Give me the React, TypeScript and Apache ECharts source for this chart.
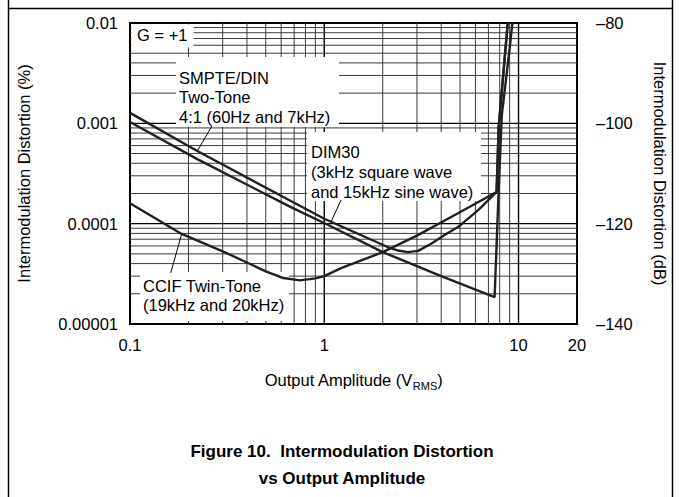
import React, { useEffect, useRef } from "react";
import * as echarts from "echarts";

const FONT = '"Liberation Sans", Arial, Helvetica, sans-serif';
const FS = 16.5;

// ---- data (Output amplitude in V_RMS, IMD in %) ----
const smpteX = [0.1, 0.222, 0.673, 1.048, 2.0, 4.0, 7.53, 7.9, 8.2, 9.0, 9.3];
const smpteY = [1.03e-3, 4.4e-4, 1.46e-4, 9.7e-5, 5.21e-5, 3.0e-5, 1.85e-5, 2.1e-4, 1.2e-3, 5.6e-3, 1e-2];

const dim30X = [0.1, 0.222, 0.673, 1.0, 2.12, 2.4, 2.69, 3.04, 3.55, 4.2, 4.88, 6.22, 7.71, 7.9, 8.8];
const dim30Y = [1.27e-3, 5.3e-4, 1.68e-4, 1.12e-4, 5.85e-5, 5.4e-5, 5.2e-5, 5.35e-5, 6.3e-5, 7.8e-5, 9.25e-5, 1.37e-4, 2.07e-4, 9e-4, 1e-2];

const ccifX = [0.1, 0.1845, 0.3, 0.4, 0.5, 0.616, 0.75, 0.9, 1.0, 1.22, 2.0, 3.0, 4.88, 7.71, 7.9, 8.8];
const ccifY = [1.6e-4, 7.9e-5, 5.3e-5, 4.1e-5, 3.35e-5, 2.87e-5, 2.72e-5, 2.85e-5, 3.0e-5, 3.6e-5, 5.2e-5, 7.6e-5, 1.27e-4, 2.07e-4, 9e-4, 1e-2];

// ---- ticks and grid lines ----
const xTickValues = [0.1, 1, 10, 20];
const xTickLabels = ["0.1", "1", "10", "20"];
const yTickValues = [1e-5, 1e-4, 1e-3, 1e-2];
const yTickLabels = ["0.00001", "0.0001", "0.001", "0.01"];
const dbTickValues = [-140, -120, -100, -80];
const dbTickLabels = ["\u2013140", "\u2013120", "\u2013100", "\u201380"];

const xMinorGrid = [0.2, 0.3, 0.4, 0.5, 0.6, 0.7, 0.8, 0.9, 2, 3, 4, 5, 6, 7, 8, 9];
const xMajorGrid = [1, 10];
const yMinorGrid = [
  2e-5, 3e-5, 4e-5, 5e-5, 6e-5, 7e-5, 8e-5, 9e-5,
  2e-4, 3e-4, 4e-4, 5e-4, 6e-4, 7e-4, 8e-4, 9e-4,
  2e-3, 3e-3, 4e-3, 5e-3, 6e-3, 7e-3, 8e-3, 9e-3,
];
const yMajorGrid = [1e-4, 1e-3];

// annotation arrows: [tailX, tailY, tipX, tipY] in data units
const smpteArrow = [0.264, 9.4e-4, 0.222, 5.3e-4];
const dim30Arrow = [1.22, 1.72e-4, 1.086, 1.05e-4];
const ccifArrow = [0.162, 3.22e-5, 0.1845, 7.9e-5];

const X_MIN = 0.1, X_MAX = 20, Y_MIN = 1e-5, Y_MAX = 1e-2;

function pick(v: number, values: number[], labels: string[]) {
  for (let i = 0; i < values.length; i++) {
    if (Math.abs(Math.log10(v) - Math.log10(values[i])) < 0.01) return labels[i];
  }
  return "";
}

function arrowMark(a: number[]) {
  return {
    silent: true,
    symbol: ["none", "arrow"],
    symbolSize: [0, 9],
    lineStyle: { color: "#000", width: 1, type: "solid" },
    label: { show: false },
    emphasis: { disabled: true },
    data: [[{ coord: [a[0], a[1]] }, { coord: [a[2], a[3]] }]],
  };
}

function zip(xs: number[], ys: number[]) {
  return xs.map((x, i) => [x, ys[i]]);
}

export default function App() {
  const ref = useRef<HTMLDivElement>(null);
  useEffect(() => {
    if (!ref.current) return;
    const chart = echarts.init(ref.current, undefined, { renderer: "svg" });

    const gridData = [
      ...xMinorGrid.map((v) => [v, Y_MIN, 0, 0]),
      ...xMajorGrid.map((v) => [v, Y_MIN, 0, 1]),
      ...yMinorGrid.map((v) => [X_MIN, v, 1, 0]),
      ...yMajorGrid.map((v) => [X_MIN, v, 1, 1]),
    ];

    const curveStyle = { color: "#231f20", width: 2.4 };
    const textStyle = { fontSize: FS, color: "#000", fontFamily: FONT };

    const annText = (x: number, y: number, text: string, lh: number) => ({
      type: "text",
      x,
      y,
      z: 3,
      silent: true,
      style: { text, fontSize: FS, fontFamily: FONT, fill: "#000", lineHeight: lh, verticalAlign: "top", align: "left" },
    });
    const box = (x: number, y: number, w: number, h: number) => ({
      type: "rect",
      z: 2,
      silent: true,
      shape: { x, y, width: w, height: h },
      style: { fill: "#fff" },
    });
    const frameLine = (x1: number, y1: number, x2: number, y2: number) => ({
      type: "line",
      z: 3,
      silent: true,
      shape: { x1, y1, x2, y2 },
      style: { stroke: "#000", lineWidth: 1.5 },
    });

    chart.setOption({
      animation: false,
      backgroundColor: "#fff",
      grid: {
        left: 130,
        top: 23,
        width: 447,
        height: 301,
        show: true,
        borderColor: "#000",
        borderWidth: 2,
        backgroundColor: "transparent",
      },
      xAxis: {
        type: "log",
        logBase: 10,
        min: X_MIN,
        max: X_MAX,
        axisLine: { show: false },
        axisTick: { show: false },
        splitLine: { show: false },
        axisLabel: {
          ...textStyle,
          margin: 12,
          showMinLabel: true,
          showMaxLabel: true,
          formatter: (v: number) => pick(v, xTickValues, xTickLabels),
        },
        name: "{a|Output Amplitude (V}{s|RMS}{a|)}",
        nameLocation: "middle",
        nameGap: 47,
        nameTextStyle: {
          color: "#000",
          fontFamily: FONT,
          rich: {
            a: { fontSize: FS, fontFamily: FONT, color: "#000", lineHeight: 20, verticalAlign: "top" },
            s: { fontSize: 11, fontFamily: FONT, color: "#000", lineHeight: 10, verticalAlign: "bottom" },
          },
        },
      },
      yAxis: [
        {
          type: "log",
          logBase: 10,
          min: Y_MIN,
          max: Y_MAX,
          position: "left",
          axisLine: { show: false },
          axisTick: { show: false },
          splitLine: { show: false },
          axisLabel: {
            ...textStyle,
            margin: 12,
            showMinLabel: true,
            showMaxLabel: true,
            formatter: (v: number) => pick(v, yTickValues, yTickLabels),
          },
          name: "Intermodulation Distortion (%)",
          nameLocation: "middle",
          nameGap: 98,
          nameTextStyle: textStyle,
        },
        {
          type: "value",
          min: -140,
          max: -80,
          interval: 20,
          position: "right",
          axisLine: { show: false },
          axisTick: { show: false },
          splitLine: { show: false },
          axisLabel: {
            ...textStyle,
            margin: 19,
            formatter: (v: number) => {
              const i = dbTickValues.indexOf(Math.round(v));
              return i >= 0 ? dbTickLabels[i] : "";
            },
          },
          name: "Intermodulation Distortion (dB)",
          nameLocation: "middle",
          nameRotate: -90,
          nameGap: 74,
          nameTextStyle: textStyle,
        },
      ],
      series: [
        {
          type: "custom",
          name: "grid",
          z: 1,
          silent: true,
          encode: { x: 0, y: 1 },
          data: gridData,
          renderItem: (params: any, api: any) => {
            const orient = api.value(2);
            const major = api.value(3);
            let p1, p2;
            if (orient === 0) {
              const x = api.value(0);
              p1 = api.coord([x, Y_MIN]);
              p2 = api.coord([x, Y_MAX]);
            } else {
              const y = api.value(1);
              p1 = api.coord([X_MIN, y]);
              p2 = api.coord([X_MAX, y]);
            }
            return {
              type: "line",
              silent: true,
              shape: { x1: p1[0], y1: p1[1], x2: p2[0], y2: p2[1] },
              style: { stroke: major ? "#000" : "#3a3a3a", lineWidth: major ? 1.4 : 1 },
            };
          },
        },
        {
          type: "line",
          name: "SMPTE/DIN",
          yAxisIndex: 0,
          z: 3,
          symbol: "none",
          lineStyle: curveStyle,
          data: zip(smpteX, smpteY),
          markLine: arrowMark(smpteArrow),
        },
        {
          type: "line",
          name: "DIM30",
          yAxisIndex: 0,
          z: 3,
          symbol: "none",
          lineStyle: curveStyle,
          data: zip(dim30X, dim30Y),
          markLine: arrowMark(dim30Arrow),
        },
        {
          type: "line",
          name: "CCIF Twin-Tone",
          yAxisIndex: 0,
          z: 3,
          symbol: "none",
          lineStyle: curveStyle,
          data: zip(ccifX, ccifY),
          markLine: arrowMark(ccifArrow),
        },
      ],
      graphic: [
        frameLine(8.5, 0, 8.5, 497),
        frameLine(672.5, 0, 672.5, 497),
        frameLine(8, 8.5, 673, 8.5),
        box(131.5, 24.5, 62, 23),
        annText(137, 26, "G = +1", 18),
        box(176, 57, 163, 70),
        annText(179, 68, "SMPTE/DIN\nTwo-Tone\n4:1 (60Hz and 7kHz)", 19.5),
        box(307, 132, 174, 69),
        annText(311, 142, "DIM30\n(3kHz square wave\nand 15kHz sine wave)", 20),
        box(140, 272, 149, 49),
        annText(143, 276, "CCIF Twin-Tone\n(19kHz and 20kHz)", 19.5),
        {
          type: "text",
          x: 342,
          y: 451,
          z: 3,
          silent: true,
          style: { text: "Figure 10.  Intermodulation Distortion", fontSize: 17, fontWeight: "bold", fontFamily: FONT, fill: "#000", align: "center", verticalAlign: "middle" },
        },
        {
          type: "text",
          x: 342,
          y: 478,
          z: 3,
          silent: true,
          style: { text: "vs Output Amplitude", fontSize: 17, fontWeight: "bold", fontFamily: FONT, fill: "#000", align: "center", verticalAlign: "middle" },
        },
      ],
    });
    return () => chart.dispose();
  }, []);
  return (
    <div
      ref={ref}
      style={{ position: "fixed", left: 0, top: 0, width: 683, height: 497, background: "#fff" }}
    />
  );
}
